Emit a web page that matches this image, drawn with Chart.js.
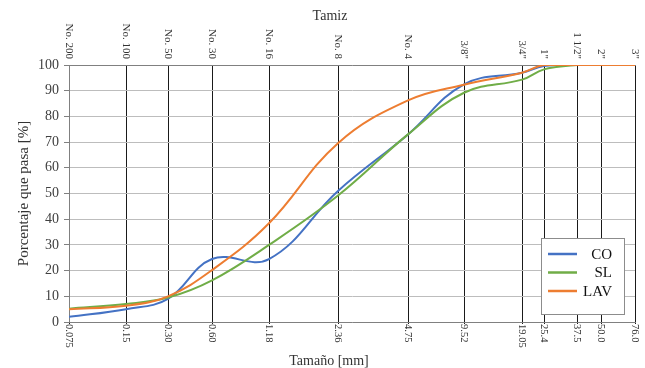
<!DOCTYPE html>
<html>
<head>
<meta charset="utf-8">
<title>Curva granulométrica</title>
<script src="https://cdn.jsdelivr.net/npm/chart.js@4.4.1/dist/chart.umd.min.js"></script>
<style>
    html, body { margin: 0; padding: 0; background: #fff; }
    #wrap { width: 645px; height: 368px; }
</style>
</head>
<body>
<div id="wrap"><canvas id="grad" width="645" height="368"></canvas></div>
<script>
/* ==========================================================================
   Curva granulométrica — CO / SL / LAV
   ========================================================================== */

// sieve openings (mm) and their ASTM names
var sieveSizes = ["0.075", "0.15", "0.30", "0.60", "1.18", "2.36", "4.75", "9.52", "19.05", "25.4", "37.5", "50.0", "76.0"];
var sieveNames = ["No. 200", "No. 100", "No. 50", "No. 30", "No. 16", "No. 8", "No. 4", "3/8\"", "3/4\"", "1\"", "1 1/2\"", "2\"", "3\""];
// where each sieve sits along the (non uniform) horizontal axis
var sieveAxisPos = [0, 57, 99, 143, 200, 269, 339, 395, 453, 475, 508, 532, 566];

// percent passing
var passCO  = [2, 5, 9, 24.5, 24.5, 51, 73, 92.5, 97, 99.6, 100, 100, 100];
var passSL  = [5.2, 7, 9.5, 16.2, 30, 49.2, 73, 89.2, 94.3, 98.3, 100, 100, 100];
var passLAV = [5, 6.3, 10, 20.2, 38.4, 69.6, 86.2, 92.3, 97, 100, 100, 100, 100];

var yTicks = [0, 10, 20, 30, 40, 50, 60, 70, 80, 90, 100];

var SERIF = "'Liberation Serif', 'Times New Roman', serif";

function _points(values) {
    return values.map(function(v, i) { return { x: sieveAxisPos[i], y: v }; });
}

function _series(label, values, color, order) {
    return {
        label: label,
        data: _points(values),
        borderColor: color,
        backgroundColor: color,
        borderWidth: 2,
        pointRadius: 0,
        tension: 0.4,
        order: order
    };
}

// rotated sieve labels, axis titles and the boxed legend
var gradLabels = {
    id: "gradLabels",
    afterDraw: function(chart) {
        var ctx = chart.ctx;
        var xs = chart.scales.x;
        var area = chart.chartArea;
        ctx.save();
        ctx.fillStyle = "#333";

        // top: sieve names, read top to bottom, ending just above the plot
        ctx.font = "11px " + SERIF;
        ctx.textAlign = "right";
        ctx.textBaseline = "middle";
        sieveNames.forEach(function(name, i) {
            ctx.save();
            ctx.translate(xs.getPixelForValue(sieveAxisPos[i]), area.top - 6);
            ctx.rotate(Math.PI / 2);
            ctx.fillText(name, 0, 0);
            ctx.restore();
        });

        // bottom: sizes in mm
        ctx.font = "10.5px " + SERIF;
        ctx.textAlign = "left";
        sieveSizes.forEach(function(s, i) {
            ctx.save();
            ctx.translate(xs.getPixelForValue(sieveAxisPos[i]), area.bottom + 2);
            ctx.rotate(Math.PI / 2);
            ctx.fillText(s, 0, 0);
            ctx.restore();
        });

        ctx.font = "14px " + SERIF;
        ctx.textAlign = "center";
        ctx.fillText("Tamiz", 330, 16);
        ctx.fillText("Tamaño [mm]", 329, 361);

        // legend
        var lx = 541, ly = 238, lw = 83, lh = 76;
        ctx.fillStyle = "#fff";
        ctx.fillRect(lx, ly, lw, lh);
        ctx.strokeStyle = "#8c8c8c";
        ctx.lineWidth = 1;
        ctx.strokeRect(lx + 0.5, ly + 0.5, lw, lh);

        ctx.font = "15px " + SERIF;
        ctx.textAlign = "right";
        chart.data.datasets.forEach(function(ds, i) {
            var y = ly + 16 + i * 18.5;
            ctx.strokeStyle = ds.borderColor;
            ctx.lineWidth = 2.5;
            ctx.beginPath();
            ctx.moveTo(lx + 7, y);
            ctx.lineTo(lx + 36, y);
            ctx.stroke();
            ctx.fillStyle = "#111";
            ctx.fillText(ds.label, lx + 71, y + 1);
        });
        ctx.restore();
    }
};

var chart = new Chart(document.getElementById("grad"), {
    type: "line",
    data: {
        datasets: [
            _series("CO", passCO, "#4472C4", 2),
            _series("SL", passSL, "#70AD47", 1),
            _series("LAV", passLAV, "#ED7D31", 0)
        ]
    },
    options: {
        responsive: false,
        animation: false,
        devicePixelRatio: 1,
        layout: { padding: { left: 0, right: 10, top: 0, bottom: 0 } },
        plugins: { legend: { display: false }, tooltip: { enabled: false } },
        scales: {
            x: {
                type: "linear",
                position: "bottom",
                min: sieveAxisPos[0],
                max: sieveAxisPos[sieveAxisPos.length - 1],
                afterBuildTicks: function(s) { s.ticks = sieveAxisPos.map(function(v) { return { value: v }; }); },
                afterFit: function(s) { s.height = 46; },
                ticks: { display: false },
                grid: { color: "#1a1a1a", lineWidth: 1, drawTicks: true, tickLength: 2 },
                border: { display: true, color: "#808080" }
            },
            x2: {
                type: "linear",
                position: "top",
                min: sieveAxisPos[0],
                max: sieveAxisPos[sieveAxisPos.length - 1],
                afterFit: function(s) { s.height = 65; },
                ticks: { display: false },
                grid: { display: false },
                border: { display: true, color: "#808080" }
            },
            y: {
                min: 0,
                max: 100,
                afterBuildTicks: function(s) { s.ticks = yTicks.map(function(v) { return { value: v }; }); },
                afterFit: function(s) { s.width = 69; },
                ticks: { font: { family: SERIF, size: 14 }, color: "#404040", padding: 5 },
                grid: { color: "#bdbdbd", lineWidth: 1, tickLength: 5, tickColor: "#808080" },
                border: { display: true, color: "#808080" },
                title: {
                    display: true,
                    text: "Porcentaje que pasa [%]",
                    font: { family: SERIF, size: 15 },
                    color: "#333",
                    padding: { top: 15, bottom: 0 }
                }
            }
        }
    },
    plugins: [gradLabels]
});
</script>
</body>
</html>
